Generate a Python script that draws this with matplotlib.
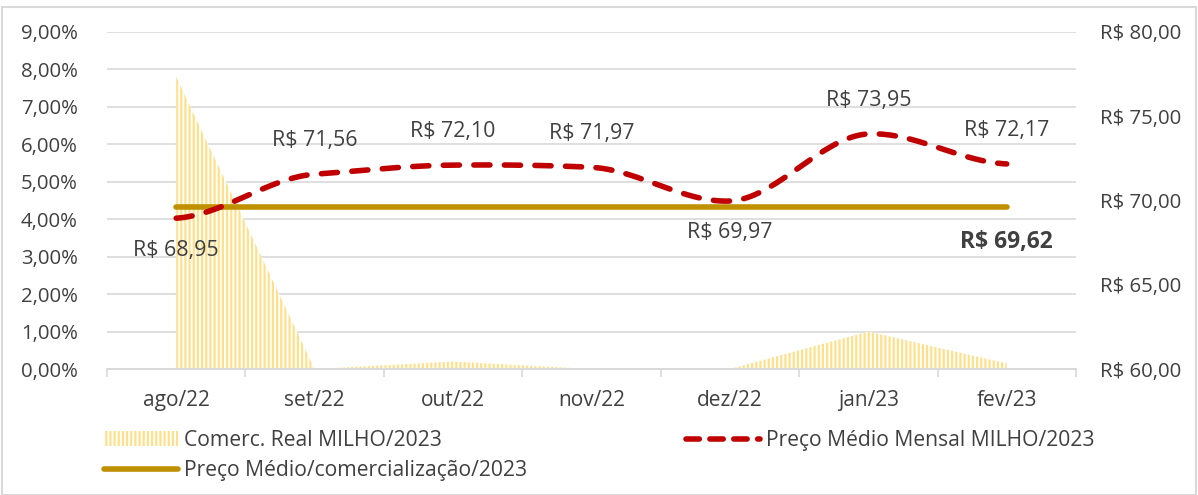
import numpy as np
import matplotlib
matplotlib.use("Agg")
import matplotlib.pyplot as plt
import matplotlib.ticker as mticker
from matplotlib.patches import Patch
from matplotlib.lines import Line2D

meses = ["ago/22", "set/22", "out/22", "nov/22", "dez/22", "jan/23", "fev/23"]
comerc_real = [7.80, 0.00, 0.20, 0.00, 0.00, 1.00, 0.15]          # %
preco_mensal = [68.95, 71.56, 72.10, 71.97, 69.97, 73.95, 72.17]  # R$
preco_medio = 69.62
label_pos = ["below", "above", "above", "above", "below", "above", "above"]

plt.rcParams["font.family"] = ["Open Sans", "DejaVu Sans"]
plt.rcParams["hatch.linewidth"] = 1.6

TXT = "#404040"
GRID = "#D9D9D9"


def brl(v):
    return "R$ " + f"{v:.2f}".replace(".", ",")


def smooth(y, n=40, k=16.0):
    # light bezier smoothing through the points
    x = np.arange(len(y), dtype=float)
    y = np.asarray(y, dtype=float)
    xs, ys = [], []
    for i in range(len(y) - 1):
        p0 = y[i - 1] if i > 0 else y[i]
        p1, p2 = y[i], y[i + 1]
        p3 = y[i + 2] if i + 2 < len(y) else y[i + 1]
        t = np.linspace(0, 1, n)
        c1 = p1 + (p2 - p0) / k
        c2 = p2 - (p3 - p1) / k
        yy = (1 - t) ** 3 * p1 + 3 * (1 - t) ** 2 * t * c1 + 3 * (1 - t) * t ** 2 * c2 + t ** 3 * p2
        xs.append(x[i] + t)
        ys.append(yy)
    return np.concatenate(xs), np.concatenate(ys)


fig = plt.figure(figsize=(11.98, 4.95), dpi=100)
ax1 = fig.add_axes([0.0893, 0.2545, 0.8088, 0.6809])
ax2 = ax1.twinx()

x = np.arange(len(meses))

# area (left axis)
ax1.fill_between(x, comerc_real, 0, facecolor="white", edgecolor="#FFE08A",
                 hatch="||||", linewidth=0, zorder=2)
ax1.set_ylim(0, 9)
ax1.set_xlim(-0.5, len(meses) - 0.5)
ax1.yaxis.set_major_locator(mticker.MultipleLocator(1))
ax1.yaxis.set_major_formatter(mticker.FuncFormatter(lambda v, p: f"{v:.2f}%".replace(".", ",")))
ax1.grid(axis="y", color=GRID, linewidth=1.2, zorder=0)
ax1.set_axisbelow(True)
ax1.set_xticks(x)
ax1.set_xticklabels(meses)
ax1.set_xticks(np.arange(-0.5, len(meses), 1), minor=True)
ax1.tick_params(axis="x", which="major", length=0, pad=15, labelsize=15, labelcolor=TXT)
ax1.tick_params(axis="x", which="minor", length=6, color=GRID, width=1.2)
ax1.tick_params(axis="y", length=0, pad=21, labelsize=14.7, labelcolor=TXT)

# lines (right axis)
xs, ys = smooth(preco_mensal)
ax2.plot(xs, ys, color="#C00000", linewidth=4, linestyle=(0, (2.9, 2.6)),
         dash_capstyle="round", zorder=4)
ax2.plot([x[0], x[-1]], [preco_medio, preco_medio], color="#BF9000", linewidth=4,
         solid_capstyle="round", zorder=3)
ax2.set_ylim(60, 80)
ax2.yaxis.set_major_locator(mticker.MultipleLocator(5))
ax2.yaxis.set_major_formatter(mticker.FuncFormatter(lambda v, p: brl(v)))
ax2.tick_params(axis="y", length=0, pad=17, labelsize=14.7, labelcolor=TXT)

for a in (ax1, ax2):
    for s in ["top", "left", "right"]:
        a.spines[s].set_visible(False)
    a.spines["bottom"].set_color(GRID)
    a.spines["bottom"].set_linewidth(1.2)

for xi, v, pos in zip(x, preco_mensal, label_pos):
    dy = 24 if pos == "above" else -23
    ax2.annotate(brl(v), (xi, v), xytext=(0, dy), textcoords="offset points",
                 ha="center", va="center", fontsize=15.4, color=TXT)
ax2.annotate(brl(preco_medio), (x[-1], preco_medio), xytext=(0, -25),
             textcoords="offset points", ha="center", va="center",
             fontsize=16.5, fontweight="bold", color=TXT)

handles = [
    Patch(facecolor="white", edgecolor="#FFE08A", hatch="||||", linewidth=0),
    Line2D([], [], color="#BF9000", linewidth=4, solid_capstyle="round"),
    Line2D([], [], color="#C00000", linewidth=4, linestyle=(0, (2.4, 1.9)),
           dash_capstyle="round"),
]
labels = ["Comerc. Real MILHO/2023", "Preço Médio/comercialização/2023",
          "Preço Médio Mensal MILHO/2023"]
fig.legend(handles, labels, ncol=2, loc="upper left", bbox_to_anchor=(0.087, 0.131),
           frameon=False, fontsize=15.2, labelcolor=TXT, handlelength=3.5,
           handletextpad=0.3, columnspacing=7.5, labelspacing=0.43,
           borderpad=0, borderaxespad=0)

fig.patches.append(plt.Rectangle((0.002, 0.0), 0.996, 0.985, transform=fig.transFigure,
                                 fill=False, edgecolor="#D9D9D9", linewidth=1.5))

fig.savefig("out.png", dpi=100)
